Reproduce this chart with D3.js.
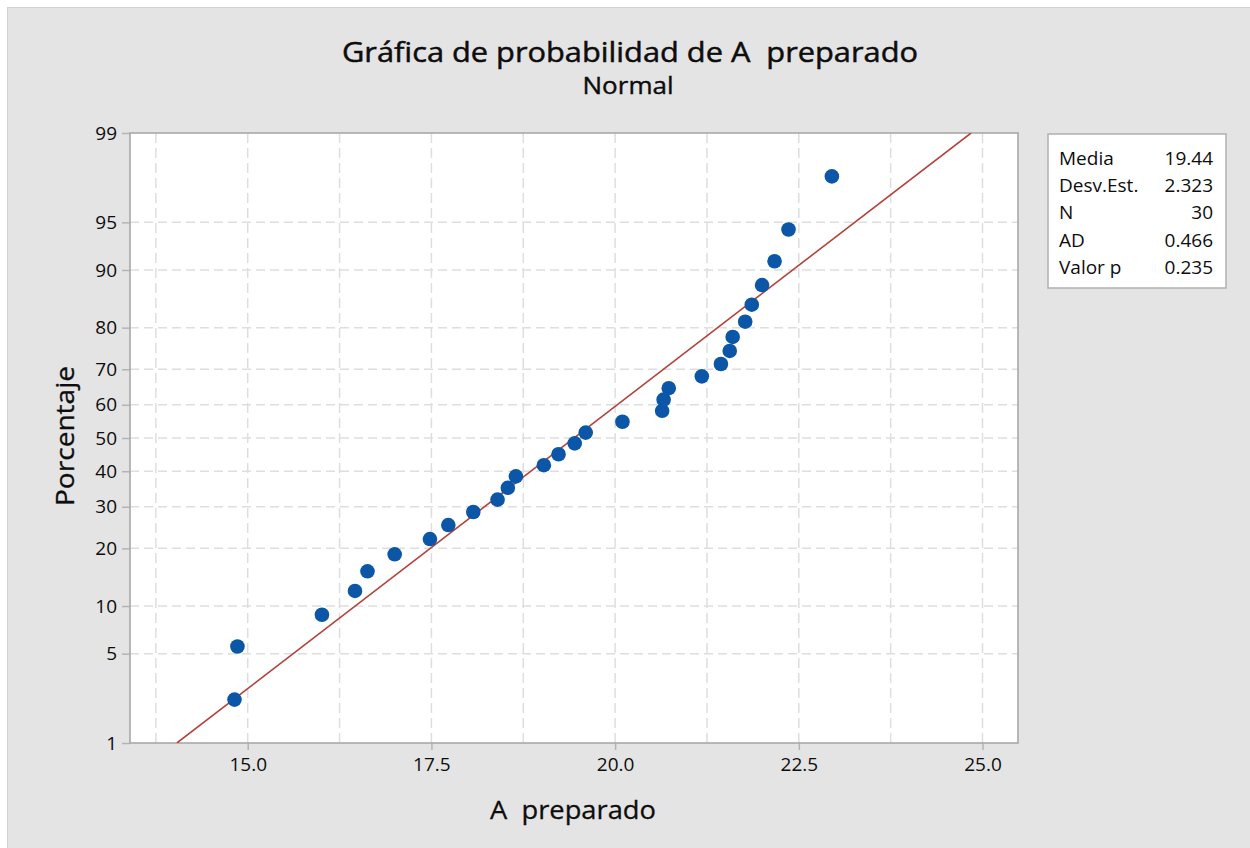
<!DOCTYPE html>
<html>
<head>
<meta charset="utf-8">
<script src="https://cdn.jsdelivr.net/npm/d3@7"></script>
<style>
  html, body { margin: 0; padding: 0; background: #ffffff; }
  svg { display: block; }
  text { font-family: "Open Sans", "Noto Sans", sans-serif; fill: #0d0d0d; }
</style>
</head>
<body>
<svg id="chart" width="1250" height="848"></svg>
<script>
// Observed values of "A preparado", sorted
const values = [14.82, 14.86, 16.01, 16.46, 16.63, 17.00, 17.48, 17.73, 18.07, 18.40,
                18.54, 18.65, 19.03, 19.23, 19.45, 19.60, 20.10, 20.64, 20.66, 20.73,
                21.18, 21.44, 21.56, 21.60, 21.77, 21.86, 22.00, 22.17, 22.36, 22.95];
// Plotting positions (percent) for each sorted value
const percents = [2.30, 5.59, 8.88, 12.17, 15.46, 18.75, 22.04, 25.33, 28.62, 31.91,
                  35.20, 38.49, 41.78, 45.07, 48.36, 51.64, 54.93, 58.22, 61.51, 64.80,
                  68.09, 71.38, 74.67, 77.96, 81.25, 84.54, 87.83, 91.12, 94.41, 97.70];
const xTicks = [15.0, 17.5, 20.0, 22.5, 25.0];
const xGrid = [13.75, 15.0, 16.25, 17.5, 18.75, 20.0, 21.25, 22.5, 23.75, 25.0];
const yTicks = [1, 5, 10, 20, 30, 40, 50, 60, 70, 80, 90, 95, 99];
const yGrid = [5, 10, 20, 30, 40, 50, 60, 70, 80, 90, 95];
const statLabels = ["Media", "Desv.Est.", "N", "AD", "Valor p"];
const statValues = ["19.44", "2.323", "30", "0.466", "0.235"];
const fitMean = 19.44, fitSd = 2.323;

// Inverse standard normal CDF (Acklam)
function probit(p) {
  const a = [-3.969683028665376e+01, 2.209460984245205e+02, -2.759285104469687e+02,
             1.383577518672690e+02, -3.066479806614716e+01, 2.506628277459239e+00];
  const b = [-5.447609879822406e+01, 1.615858368580409e+02, -1.556989798598866e+02,
             6.680131188771972e+01, -1.328068155288572e+01];
  const c = [-7.784894002430293e-03, -3.223964580411365e-01, -2.400758277161838e+00,
             -2.549732539343734e+00, 4.374664141464968e+00, 2.938163982698783e+00];
  const d = [7.784695709041462e-03, 3.224671290700398e-01, 2.445134137142996e+00,
             3.754408661907416e+00];
  const pl = 0.02425, ph = 1 - pl;
  let q, r;
  if (p < pl) {
    q = Math.sqrt(-2 * Math.log(p));
    return (((((c[0]*q+c[1])*q+c[2])*q+c[3])*q+c[4])*q+c[5]) / ((((d[0]*q+d[1])*q+d[2])*q+d[3])*q+1);
  } else if (p <= ph) {
    q = p - 0.5; r = q * q;
    return (((((a[0]*r+a[1])*r+a[2])*r+a[3])*r+a[4])*r+a[5])*q / (((((b[0]*r+b[1])*r+b[2])*r+b[3])*r+b[4])*r+1);
  } else {
    q = Math.sqrt(-2 * Math.log(1 - p));
    return -(((((c[0]*q+c[1])*q+c[2])*q+c[3])*q+c[4])*q+c[5]) / ((((d[0]*q+d[1])*q+d[2])*q+d[3])*q+1);
  }
}

const svg = d3.select("#chart");
const W = 1250, H = 848;
const plot = { left: 130, top: 133, right: 1018, bottom: 743 };

// Panel background
svg.append("rect").attr("x", 0).attr("y", 0).attr("width", W).attr("height", H).attr("fill", "#ffffff");
svg.append("rect").attr("x", 7.5).attr("y", 7.5).attr("width", W).attr("height", H)
  .attr("fill", "#e4e4e4").attr("stroke", "#d2d2d2").attr("stroke-width", 1);

// Scales: linear in x, normal-quantile in y
const x = d3.scaleLinear().domain([13.398, 25.483]).range([plot.left, plot.right]);
const zScale = d3.scaleLinear().domain([probit(0.01), probit(0.99)]).range([plot.bottom, plot.top]);
const y = p => zScale(probit(p / 100));

// Plot area
svg.append("rect").attr("x", plot.left).attr("y", plot.top)
  .attr("width", plot.right - plot.left).attr("height", plot.bottom - plot.top)
  .attr("fill", "#ffffff");

svg.append("defs").append("clipPath").attr("id", "clip")
  .append("rect").attr("x", plot.left).attr("y", plot.top)
  .attr("width", plot.right - plot.left).attr("height", plot.bottom - plot.top);

// Grid
const grid = svg.append("g").attr("stroke", "#dedede").attr("stroke-width", 1.5);
grid.selectAll("line.v").data(xGrid).join("line").attr("class", "v")
  .attr("x1", d => x(d)).attr("x2", d => x(d))
  .attr("y1", plot.top).attr("y2", plot.bottom)
  .attr("stroke-dasharray", "10,5");
grid.selectAll("line.h").data(yGrid).join("line").attr("class", "h")
  .attr("x1", plot.left).attr("x2", plot.right)
  .attr("y1", d => y(d)).attr("y2", d => y(d))
  .attr("stroke-dasharray", "9,5");

// Axes
const xAxis = d3.axisBottom(x).tickValues(xTicks).tickFormat(d3.format(".1f"))
  .tickSize(7).tickPadding(8);
const gx = svg.append("g").attr("transform", `translate(0,${plot.bottom})`).call(xAxis);
gx.select(".domain").remove();
gx.selectAll("line").attr("stroke", "#b4b4b4").attr("stroke-width", 1.5);
gx.selectAll("text").attr("font-size", 19).attr("fill", "#0d0d0d")
  .style("font-family", "'Open Sans', 'Noto Sans', sans-serif");

const yAxisGen = d3.axisLeft(zScale)
  .tickValues(yTicks.map(p => probit(p / 100)))
  .tickFormat((d, i) => yTicks[i]).tickSize(8).tickPadding(5);
const gy = svg.append("g").attr("transform", `translate(${plot.left},0)`).call(yAxisGen);
gy.select(".domain").remove();
gy.selectAll("line").attr("stroke", "#b4b4b4").attr("stroke-width", 1.5);
gy.selectAll("text").attr("font-size", 19).attr("fill", "#0d0d0d")
  .style("font-family", "'Open Sans', 'Noto Sans', sans-serif");

// Frame
svg.append("rect").attr("x", plot.left).attr("y", plot.top)
  .attr("width", plot.right - plot.left).attr("height", plot.bottom - plot.top)
  .attr("fill", "none").attr("stroke", "#a8a8a8").attr("stroke-width", 1.6);

// Fitted normal line
const zLo = probit(0.01), zHi = probit(0.99);
svg.append("line").attr("clip-path", "url(#clip)")
  .attr("x1", x(fitMean + fitSd * zLo)).attr("y1", zScale(zLo))
  .attr("x2", x(fitMean + fitSd * zHi)).attr("y2", zScale(zHi))
  .attr("stroke", "#b4433d").attr("stroke-width", 1.6);

// Data points
svg.append("g").selectAll("circle").data(values).join("circle")
  .attr("cx", d => x(d)).attr("cy", (d, i) => y(percents[i]))
  .attr("r", 7.3).attr("fill", "#0b56a6");

// Titles (slight stroke gives a medium weight)
svg.append("text").attr("x", 630).attr("y", 62).attr("text-anchor", "middle")
  .attr("font-size", 28).attr("stroke", "#0d0d0d").attr("stroke-width", 0.5)
  .attr("textLength", 576).attr("lengthAdjust", "spacingAndGlyphs")
  .style("white-space", "pre").text("Gráfica de probabilidad de A  preparado");
svg.append("text").attr("x", 628).attr("y", 94).attr("text-anchor", "middle")
  .attr("font-size", 24).attr("stroke", "#0d0d0d").attr("stroke-width", 0.4)
  .attr("textLength", 91).attr("lengthAdjust", "spacingAndGlyphs").text("Normal");

// Axis titles
svg.append("text").attr("x", 573).attr("y", 819).attr("text-anchor", "middle")
  .attr("font-size", 26).attr("stroke", "#0d0d0d").attr("stroke-width", 0.3)
  .attr("textLength", 166).attr("lengthAdjust", "spacingAndGlyphs")
  .style("white-space", "pre").text("A  preparado");
svg.append("text").attr("transform", "translate(74,436) rotate(-90)")
  .attr("text-anchor", "middle").attr("font-size", 26)
  .attr("stroke", "#0d0d0d").attr("stroke-width", 0.3)
  .attr("textLength", 140).attr("lengthAdjust", "spacingAndGlyphs").text("Porcentaje");

// Statistics box
const box = svg.append("g");
box.append("rect").attr("x", 1048).attr("y", 134).attr("width", 178).attr("height", 154)
  .attr("fill", "#ffffff").attr("stroke", "#b0b0b0").attr("stroke-width", 1.5);
box.selectAll("text.lab").data(statLabels).join("text").attr("class", "lab")
  .attr("x", 1059).attr("y", (d, i) => 165 + i * 27.2)
  .attr("font-size", 19).text(d => d);
box.selectAll("text.val").data(statValues).join("text").attr("class", "val")
  .attr("x", 1213).attr("y", (d, i) => 165 + i * 27.2).attr("text-anchor", "end")
  .attr("font-size", 19).text(d => d);
</script>
</body>
</html>
